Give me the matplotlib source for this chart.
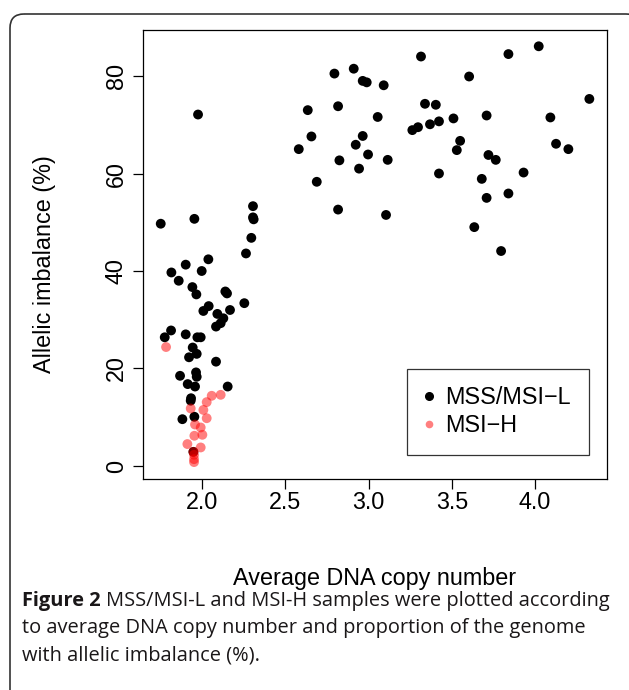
import matplotlib
matplotlib.use("Agg")
import matplotlib.pyplot as plt
from matplotlib.patches import FancyBboxPatch
from matplotlib.lines import Line2D

# MSS/MSI-L samples (black)
mss_x = [2.795, 2.911, 2.965, 2.989, 2.635, 2.817, 3.055, 2.657, 2.581, 2.965,
         2.923, 2.997, 2.825, 2.943, 2.689, 2.817, 3.315, 3.840, 4.022, 3.091,
         3.604, 4.326, 3.339, 3.404, 3.709, 4.092, 3.510, 3.423, 3.369, 3.297,
         3.263, 3.550, 3.530, 4.126, 4.200, 3.115, 3.720, 3.764, 3.423, 3.931,
         3.680, 3.709, 3.840, 3.105, 3.635, 3.796,
         1.976, 1.752, 1.954, 2.306, 2.306, 2.310, 2.296, 2.264, 2.038, 1.902,
         1.998, 1.816, 1.860, 1.942, 1.966, 2.140, 2.150, 2.040, 2.008, 2.254,
         2.092, 2.128, 2.168, 2.084, 2.112, 1.814, 1.776, 1.902, 1.972, 1.992,
         1.944, 1.968, 1.922, 2.084, 1.868, 1.964, 1.968, 1.914, 1.958, 2.154,
         1.934, 1.932, 1.954, 1.882, 1.948]
mss_y = [80.5, 81.5, 79.0, 78.7, 73.0, 73.8, 71.6, 67.6, 65.0, 67.7,
         65.9, 63.9, 62.7, 61.0, 58.3, 52.6, 84.0, 84.5, 86.1, 78.1,
         79.9, 75.3, 74.3, 74.1, 71.9, 71.5, 71.3, 70.7, 70.1, 69.5,
         68.9, 66.7, 64.8, 66.1, 65.0, 62.8, 63.8, 62.8, 60.0, 60.2,
         58.9, 55.0, 55.9, 51.5, 49.0, 44.1,
         72.1, 49.7, 50.7, 53.3, 51.0, 50.6, 46.8, 43.6, 42.4, 41.3,
         40.0, 39.7, 38.0, 36.7, 35.2, 35.8, 35.4, 32.8, 31.8, 33.4,
         31.2, 30.3, 32.0, 28.6, 29.3, 27.8, 26.4, 27.0, 26.4, 26.4,
         24.3, 23.0, 22.3, 21.4, 18.5, 19.2, 18.3, 16.8, 16.3, 16.3,
         13.9, 13.4, 10.1, 9.6, 2.9]

# MSI-H samples (red, semi transparent)
msih_x = [1.784, 2.058, 2.112, 2.028, 1.932, 2.008, 2.028, 1.958, 1.992, 1.954,
          2.002, 1.912, 1.992, 1.948, 1.952, 1.952, 1.952]
msih_y = [24.4, 14.4, 14.6, 13.1, 11.8, 11.5, 9.8, 8.5, 7.9, 6.2,
          6.4, 4.5, 3.8, 2.9, 2.3, 1.4, 0.8]

x_ticks = [2.0, 2.5, 3.0, 3.5, 4.0]
y_ticks = [0, 20, 40, 60, 80]
legend_labels = ["MSS/MSI\u2212L", "MSI\u2212H"]

W, H = 629, 690
fig = plt.figure(figsize=(W / 100, H / 100), dpi=100)
plt.rcParams['font.family'] = ['Liberation Sans', 'DejaVu Sans']
fs = 16.8

# overlay in pixel coords for frame, labels and caption
bg = fig.add_axes([0, 0, 1, 1])
bg.set_xlim(0, W)
bg.set_ylim(H, 0)
bg.axis('off')
frame = FancyBboxPatch((10, 14), 630, 700, boxstyle="round,pad=0,rounding_size=14",
                       fill=False, edgecolor='#333333', linewidth=1.2)
bg.add_patch(frame)

ax = fig.add_axes([143 / W, 1 - 479 / H, (607 - 143) / W, (479 - 30) / H])
ax.scatter(mss_x, mss_y, s=50, color='black', edgecolors='none')
ax.scatter(msih_x, msih_y, s=50, color='red', alpha=0.5, edgecolors='none')

ax.set_xlim(1.6455, 4.432)
ax.set_ylim(-2.67, 89.44)
ax.set_xticks(x_ticks)
ax.set_xticklabels(["%.1f" % t for t in x_ticks])
ax.set_yticks(y_ticks)
ax.set_yticklabels([str(t) for t in y_ticks], rotation=90, va='center')
ax.tick_params(direction='out', length=7, width=0.9, labelsize=fs)
ax.tick_params(axis='x', pad=1.5)
ax.tick_params(axis='y', pad=4)
for sp in ax.spines.values():
    sp.set_linewidth(0.9)

handles = [Line2D([], [], marker='o', linestyle='none', color='black', markersize=5.5),
           Line2D([], [], marker='o', linestyle='none', color='red', alpha=0.5,
                  markersize=5.5, markeredgewidth=0)]
leg = ax.legend(handles, legend_labels, loc='upper left',
                bbox_to_anchor=(407 / W, 1 - 369 / H), bbox_transform=fig.transFigure,
                fontsize=fs, frameon=True, fancybox=False, edgecolor='black',
                borderpad=0.75, handlelength=0.4, handletextpad=0.5,
                labelspacing=0.2, borderaxespad=0)
leg.get_frame().set_linewidth(0.9)

bg.text(375, 578, "Average DNA copy number", ha='center', va='center', fontsize=fs)
bg.text(45, 264, "Allelic imbalance (%)", ha='center', va='center', rotation=90,
        fontsize=fs)

# caption
cap_font = ['Open Sans', 'DejaVu Sans']
cap_color = '#1a1718'
cap_size = 14.4
lines = ["MSS/MSI-L and MSI-H samples were plotted according",
         "to average DNA copy number and proportion of the genome",
         "with allelic imbalance (%)."]
t = bg.text(22, 601, "Figure 2", fontsize=cap_size, fontweight='bold', family=cap_font,
            color=cap_color, va='center', ha='left')
fig.canvas.draw()
r = fig.canvas.get_renderer()
bb = t.get_window_extent(renderer=r)
bg.text(22 + bb.width + 5, 601, lines[0], fontsize=cap_size, family=cap_font,
        color=cap_color, va='center', ha='left')
bg.text(22, 628, lines[1], fontsize=cap_size, family=cap_font, color=cap_color,
        va='center', ha='left')
bg.text(22, 655, lines[2], fontsize=cap_size, family=cap_font, color=cap_color,
        va='center', ha='left')

fig.savefig("out.png", dpi=100)
